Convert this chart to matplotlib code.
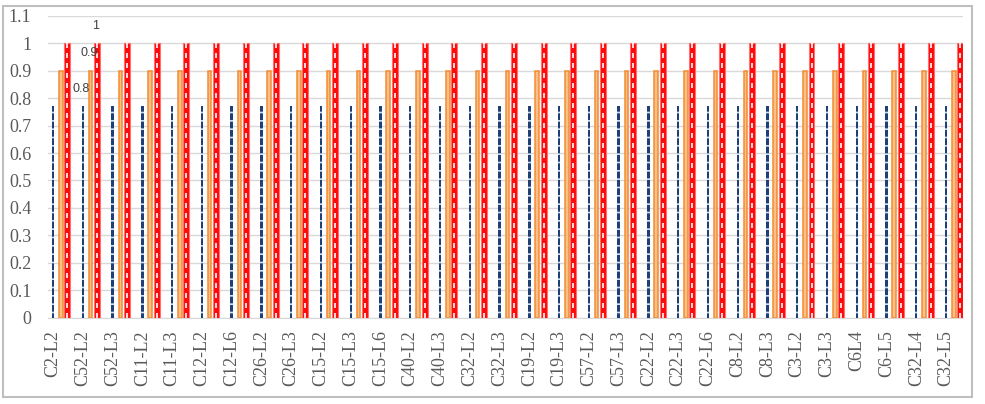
import numpy as np
import matplotlib
matplotlib.use('Agg')
import matplotlib.pyplot as plt
from matplotlib.patches import Rectangle

# category labels
categories = ['C2-L2', 'C52-L2', 'C52-L3', 'C11-L2', 'C11-L3', 'C12-L2', 'C12-L6',
              'C26-L2', 'C26-L3', 'C15-L2', 'C15-L3', 'C15-L6', 'C40-L2', 'C40-L3',
              'C32-L2', 'C32-L3', 'C19-L2', 'C19-L3', 'C57-L2', 'C57-L3', 'C22-L2',
              'C22-L3', 'C22-L6', 'C8-L2', 'C8-L3', 'C3-L2', 'C3-L3', 'C6L4',
              'C6-L5', 'C32-L4', 'C32-L5']
blue_vals = [0.77] * len(categories)
orange_vals = [0.9] * len(categories)
red_vals = [1.0] * len(categories)

plt.rcParams['font.family'] = ['Liberation Serif', 'DejaVu Sans']
plt.rcParams['hatch.linewidth'] = 1.2

fig = plt.figure(figsize=(9.85, 4.04), dpi=100)
ax = fig.add_axes([0.0487, 0.2129, 0.929, 0.7487])

x = np.arange(len(categories))
blue_x = x + 0.0
orange_x = x + 0.26
red_x = x + 0.48

# dark blue dashed bars
ax.bar(blue_x, blue_vals, width=0.08, color='#1F3F77', edgecolor='#CFE0F3',
       linewidth=0, hatch='--', zorder=3)
# orange outline bars
ax.bar(orange_x, orange_vals, width=0.12, color='#FAC08C', edgecolor='#F28C30',
       linewidth=1.1, zorder=3)
# red bars with white dashed centre
ax.bar(red_x, red_vals, width=0.2, color='#FF0A0A', edgecolor='#FF7070',
       linewidth=0.8, zorder=3)
ax.vlines(red_x, 0, red_vals, colors='white', linestyles=(0, (3, 3)),
          linewidth=1.2, zorder=4)

# data labels of the first group
for bx, v in [(blue_x[0], blue_vals[0]), (orange_x[0], orange_vals[0]), (red_x[0], red_vals[0])]:
    ax.text(bx + 0.96, v + 0.063, f'{round(v, 1):g}', ha='center', va='center',
            fontsize=9, color='#404040', family=['Liberation Sans'], zorder=5)

ax.set_xlim(-0.17, len(categories) - 1 + 0.57)
ax.set_ylim(0, 1.1)
ax.set_yticks(np.arange(0, 1.11, 0.1))
ax.set_yticklabels([f'{t:g}' for t in np.round(np.arange(0, 1.11, 0.1), 1)])
ax.set_xticks(x)
ax.set_xticklabels(categories, rotation=90)
ax.tick_params(axis='both', length=0, labelsize=13, labelcolor='#595959')
ax.tick_params(axis='y', pad=12)
ax.tick_params(axis='x', pad=9)
ax.grid(axis='y', color='#D9D9D9', linewidth=1, zorder=0)
ax.set_axisbelow(True)
for s in ['top', 'right', 'left']:
    ax.spines[s].set_visible(False)
ax.spines['bottom'].set_color('#D9D9D9')

# outer chart border
fig.patches.append(Rectangle((3 / 985, 7 / 404), 969 / 985, 391 / 404,
                             transform=fig.transFigure, fill=False,
                             edgecolor='#BFBFBF', linewidth=1.5))

fig.savefig('out.png', dpi=100)
